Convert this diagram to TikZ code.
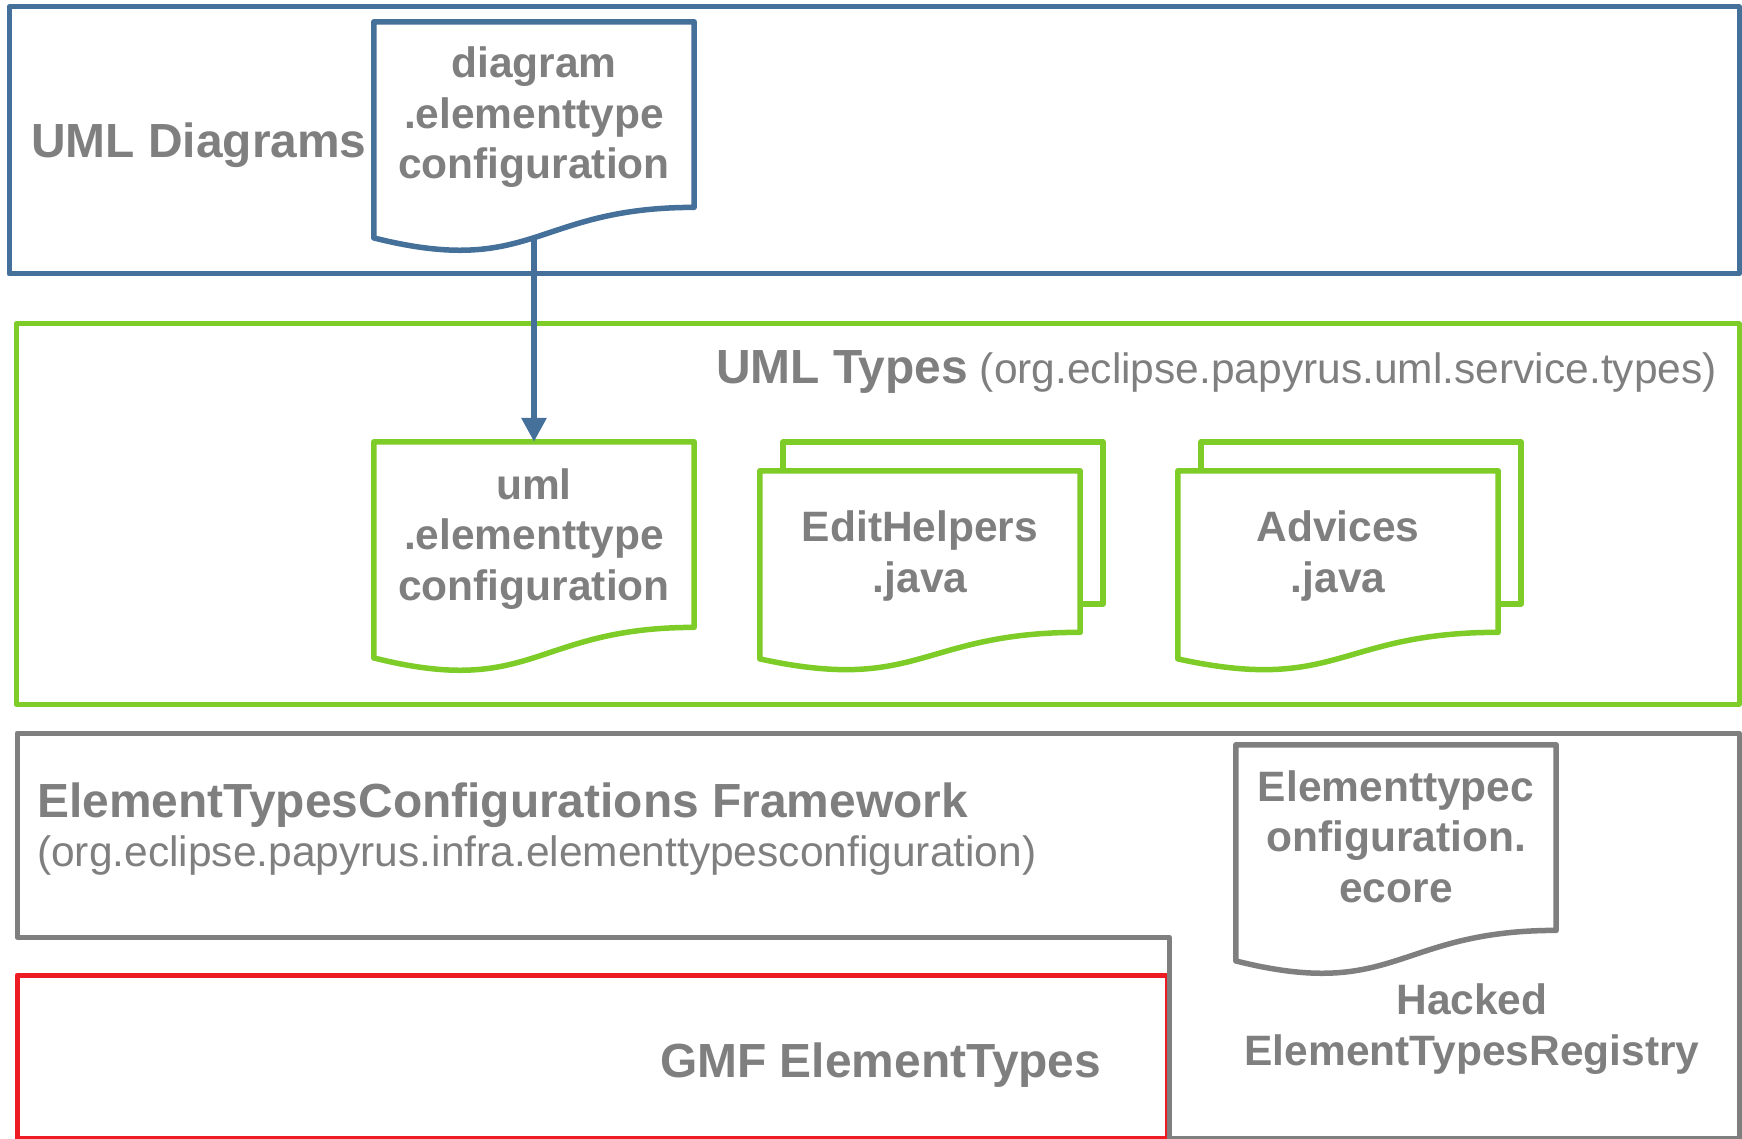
\documentclass[tikz,border=0pt]{standalone}
\usepackage{fontspec}
\setmainfont{Liberation Sans}
\usetikzlibrary{calc,arrows.meta}
\definecolor{umlblue}{RGB}{68,112,154}
\definecolor{umlgreen}{RGB}{126,204,40}
\definecolor{fwgray}{RGB}{127,127,127}
\definecolor{gmfred}{RGB}{237,28,36}
\definecolor{txtgray}{RGB}{127,127,127}
\newcommand\docshape[2]{%
  \draw[docline,#2] (#1.north west) -- (#1.north east) -- ($(#1.north east)!0.802!(#1.south east)$)
    .. controls ($(#1.north)!0.802!(#1.south)$) and ($(#1.north)!1.1075!(#1.south)$) ..
    ($(#1.north west)!0.934!(#1.south west)$) -- cycle;}
\tikzset{
  box/.style={line width=5pt, line join=round},
  docline/.style={line width=5.5pt, line join=round, fill=white},
  docnode/.style={draw=none, inner sep=0pt, minimum width=320pt},
  backsheet/.style={draw, line width=5.5pt, line join=round, fill=white, inner sep=0pt,
    minimum width=320pt, minimum height=162pt},
  ttl/.style={font=\fontsize{47.9}{56}\selectfont\bfseries, text=txtgray, inner sep=0pt},
  subt/.style={font=\fontsize{42.5}{50}\selectfont, text=txtgray, inner sep=0pt},
  doctext/.style={font=\fontsize{42.5}{50.5}\selectfont\bfseries, text=txtgray, align=center, inner sep=0pt},
  flow/.style={line width=6.5pt, draw=umlblue, -{Triangle[length=24pt,width=24pt]}},
}
\begin{document}
\begin{tikzpicture}[x=1pt,y=-1pt]
\useasboundingbox (0,0) rectangle (1742,1139);
% containers
\draw[box, draw=umlblue] (9,7) rectangle (1739,274);
\draw[box, draw=umlgreen] (16,324) rectangle (1739,704);
\draw[box, draw=gmfred] (17,975) -- (1167,975) -- (1167,1138) -- (17,1138) -- cycle;
\draw[box, draw=fwgray] (17,733) -- (1739,733) -- (1739,1138) -- (1169,1138) -- (1169,937) -- (17,937) -- cycle;

% documents
\node[docnode, minimum height=231pt] (diag) at (534,137.5) {};
\docshape{diag}{draw=umlblue}
\node[docnode, minimum height=231pt] (uml) at (534,557.5) {};
\docshape{uml}{draw=umlgreen}
\node[backsheet, draw=umlgreen] (ehback) at (943,523) {};
\node[docnode, minimum height=201pt] (eh) at (920,571.5) {};
\docshape{eh}{draw=umlgreen}
\node[backsheet, draw=umlgreen] (adback) at (1361,523) {};
\node[docnode, minimum height=201pt] (adv) at (1338,571.5) {};
\docshape{adv}{draw=umlgreen}
\node[docnode, minimum height=231pt] (ecore) at (1396,860.5) {};
\docshape{ecore}{draw=fwgray}

% connector
\coordinate (diagb) at ($(diag.north)!0.933!(diag.south)$);
\draw[flow] (diagb) -- (uml.north);

% texts (anchor=base is the baseline of the last line)
\node[ttl, anchor=base west] (tdiag) at (31,158) {UML Diagrams};
\node[doctext, anchor=base] (tdiagdoc) at (534,179) {diagram\\.elementtype\\configuration};
\node[anchor=base east, inner sep=0pt, text=txtgray] (ttypes) at (1717,383)
  {{\fontsize{47.9}{56}\selectfont\bfseries UML Types}\fontsize{42.5}{50}\selectfont\ (org.eclipse.papyrus.uml.service.types)};
\node[doctext, anchor=base] (tumldoc) at (534,600) {uml\\.elementtype\\configuration};
\node[doctext, anchor=base] (tehdoc) at (920,592) {EditHelpers\\.java};
\node[doctext, anchor=base] (tadvdoc) at (1338,592) {Advices\\.java};
\node[ttl, anchor=base west] (tfw) at (37,817) {ElementTypesConfigurations Framework};
\node[subt, anchor=base west] (tfwsub) at (37,866) {(org.eclipse.papyrus.infra.elementtypesconfiguration)};
\node[doctext, anchor=base] (tecore) at (1396,902) {Elementtypec\\onfiguration.\\ecore};
\node[doctext, anchor=base] (thack) at (1472,1065) {Hacked\\ElementTypesRegistry};
\node[ttl, anchor=base west] (tgmf) at (660,1077) {GMF ElementTypes};
\end{tikzpicture}
\end{document}
